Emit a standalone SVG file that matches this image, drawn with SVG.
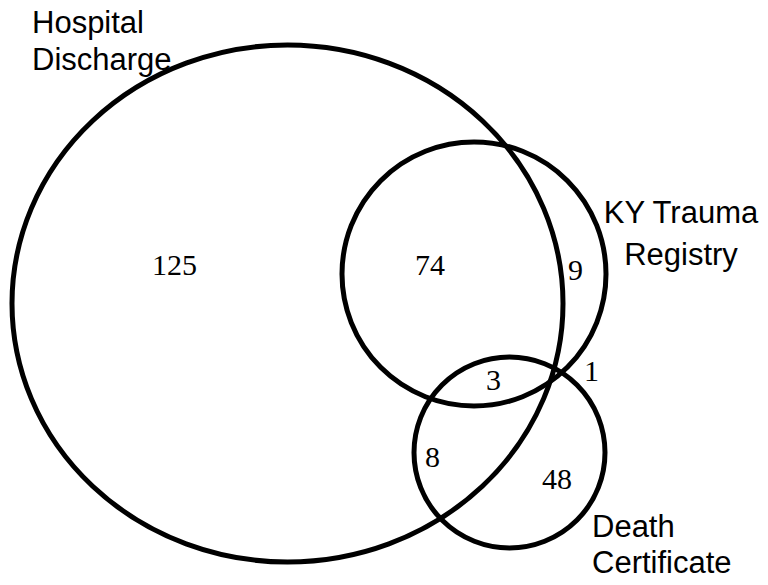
<svg xmlns="http://www.w3.org/2000/svg" width="768" height="585" viewBox="0 0 768 585">
<style>
.set{fill:none;stroke:#000;stroke-width:5}
.num{font-family:"Liberation Serif","Times New Roman",serif;font-size:30px;fill:#000}
.lbl{font-family:"Liberation Sans",Arial,sans-serif;font-size:31px;fill:#000}
</style>
<rect width="768" height="585" fill="#fff"/>
<g id="hospital">
<ellipse class="set" cx="287.5" cy="303.5" rx="275.5" ry="258.5"/>
<text class="lbl" x="32" y="33">Hospital</text>
<text class="lbl" x="32" y="70">Discharge</text>
</g>
<g id="trauma">
<circle class="set" cx="474" cy="274" r="132"/>
<text class="lbl" x="681" y="223" text-anchor="middle">KY Trauma</text>
<text class="lbl" x="681" y="265" text-anchor="middle">Registry</text>
</g>
<g id="death">
<circle class="set" cx="509.5" cy="452.5" r="95.5"/>
<text class="lbl" x="592" y="537">Death</text>
<text class="lbl" x="592" y="573">Certificate</text>
</g>
<g id="counts">
<text class="num" x="152" y="275">125</text>
<text class="num" x="415" y="275">74</text>
<text class="num" x="568" y="280">9</text>
<text class="num" x="486" y="390">3</text>
<text class="num" x="584" y="381">1</text>
<text class="num" x="425" y="467">8</text>
<text class="num" x="542" y="489">48</text>
</g>
<g id="connectors"></g>
</svg>
